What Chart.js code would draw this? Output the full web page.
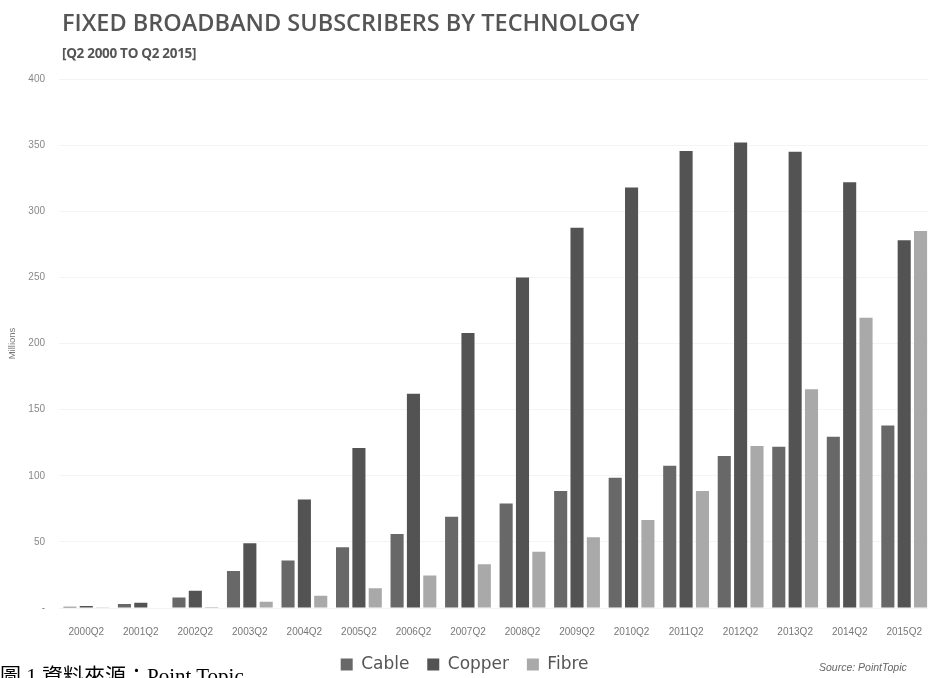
<!DOCTYPE html>
<html>
<head>
<meta charset="utf-8">
<script src="https://cdn.jsdelivr.net/npm/chart.js@4/dist/chart.umd.min.js"></script>
<style>
  html, body { margin: 0; padding: 0; background: #fff; overflow: hidden; }
  .wrap { position: relative; width: 928px; height: 678px; overflow: hidden; }
  canvas { position: absolute; left: 0; top: 0; }
  .title { position: absolute; left: 62px; top: 6px; font-family: 'Open Sans', sans-serif; font-weight: 600; font-size: 23.5px; color: #555; }
  .subtitle { position: absolute; left: 62px; top: 44px; font-family: 'Open Sans', sans-serif; font-weight: 700; font-size: 13.5px; color: #555; letter-spacing: -0.3px; }
  .source { position: absolute; left: 819px; top: 661px; font-family: 'Liberation Sans', sans-serif; font-style: italic; font-size: 10.5px; color: #666; }
  .caption { position: absolute; left: 0; top: 659px; font-family: 'Liberation Serif', 'Noto Sans CJK TC', serif; font-size: 21px; color: #000; white-space: nowrap; }
</style>
</head>
<body>
<div class="wrap">
  <canvas id="chart" width="940" height="678"></canvas>
  <div class="title">FIXED BROADBAND SUBSCRIBERS BY TECHNOLOGY</div>
  <div class="subtitle">[Q2 2000 TO Q2 2015]</div>
  <div class="source">Source: PointTopic</div>
  <div class="caption">圖 1 資料來源：Point Topic</div>
</div>
<script>
var categories = ['2000Q2', '2001Q2', '2002Q2', '2003Q2', '2004Q2', '2005Q2', '2006Q2', '2007Q2',
  '2008Q2', '2009Q2', '2010Q2', '2011Q2', '2012Q2', '2013Q2', '2014Q2', '2015Q2'];

// millions of subscribers
var cable = [1, 3, 8, 28, 36, 46, 56, 69, 79, 88.5, 98.5, 107.5, 115, 122, 129.5, 138];
var copper = [1.5, 4, 13, 49, 82, 121, 162, 208, 250, 287.5, 318, 345.5, 352, 345, 322, 278];
var fibre = [0.2, 0.3, 0.8, 4.8, 9.3, 15, 24.5, 33, 42.5, 53.5, 66.5, 88.5, 122.5, 165.5, 219.5, 285];

var yTicks = [0, 50, 100, 150, 200, 250, 300, 350, 400];

var cableColor = '#686868';
var copperColor = '#535353';
var fibreColor = '#a9a9a9';

new Chart(document.getElementById('chart'), {
  type: 'bar',
  data: {
    labels: categories,
    datasets: [
      { label: 'Cable', data: cable, backgroundColor: cableColor },
      { label: 'Copper', data: copper, backgroundColor: copperColor },
      { label: 'Fibre', data: fibre, backgroundColor: fibreColor }
    ]
  },
  options: {
    responsive: false,
    animation: false,
    devicePixelRatio: 1,
    layout: { padding: { top: 79, right: 0, bottom: -5, left: 0 } },
    datasets: {
      bar: { categoryPercentage: 0.9, barPercentage: 0.8 }
    },
    plugins: {
      tooltip: { enabled: false },
      legend: {
        position: 'bottom',
        labels: {
          boxWidth: 12,
          boxHeight: 12,
          padding: 7,
          color: '#555',
          font: { family: "'DejaVu Sans', sans-serif", size: 17 },
          generateLabels: function (chart) {
            var items = Chart.defaults.plugins.legend.labels.generateLabels(chart);
            items.forEach(function (item) { item.text = item.text + '  '; });
            return items;
          }
        }
      }
    },
    scales: {
      x: {
        afterFit: function (scale) { scale.height = 41; },
        grid: { display: false, drawTicks: false },
        border: { display: false },
        ticks: {
          color: '#777',
          padding: 18,
          maxRotation: 0,
          autoSkip: false,
          font: { family: "'Liberation Sans', sans-serif", size: 10 }
        }
      },
      y: {
        min: 0,
        max: 400,
        afterFit: function (scale) { scale.width = 59; },
        afterBuildTicks: function (scale) {
          scale.ticks = yTicks.map(function (v) { return { value: v }; });
        },
        grid: { color: '#f4f4f4', drawTicks: false },
        border: { display: false },
        title: {
          display: true,
          text: 'Millions',
          color: '#777',
          padding: { top: 7, bottom: 0 },
          font: { family: "'Liberation Sans', sans-serif", size: 9.5 }
        },
        ticks: {
          color: '#888',
          padding: 14,
          font: { family: "'Liberation Sans', sans-serif", size: 10 },
          callback: function (value) { return value === 0 ? '-' : value; }
        }
      }
    }
  }
});
</script>
</body>
</html>
